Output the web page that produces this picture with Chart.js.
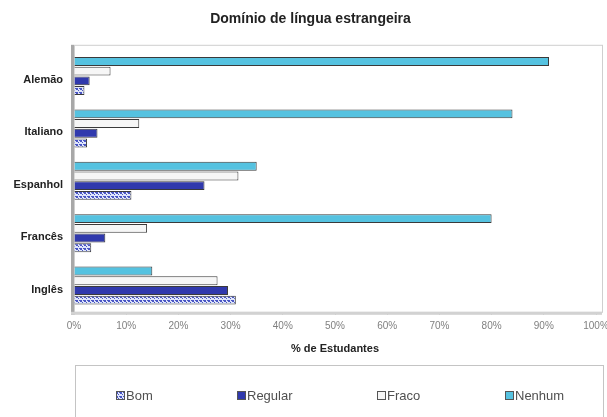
<!DOCTYPE html>
<html>
<head>
<meta charset="utf-8">
<script src="https://cdn.jsdelivr.net/npm/chart.js@4"></script>
<style>
  html, body { margin: 0; padding: 0; background: #fff; }
  #wrap { width: 607px; height: 417px; }
</style>
</head>
<body>
<div id="wrap"><canvas id="chart" width="607" height="417"></canvas></div>
<script>
// Languages, top to bottom
const languages = ['Alemão', 'Italiano', 'Espanhol', 'Francês', 'Inglês'];

// % of students per proficiency level
const nenhum  = [91, 84, 35, 80, 15];
const fraco   = [7, 12.5, 31.5, 14, 27.5];
const regular = [3, 4.5, 25, 6, 29.5];
const bom     = [2, 2.5, 11, 3.3, 31];

const xTicks = [0, 10, 20, 30, 40, 50, 60, 70, 80, 90, 100];

const colors = {
    nenhum: '#55c2e0',
    fraco: '#f6f6f6',
    regular: '#3039ad',
    border: '#3a3a3a',
    text: '#222222',
    tick: '#808080',
    frame: '#cfcfcf'
};

// hatched fill for "Bom"
function bomPattern() {
    const c = document.createElement('canvas');
    c.width = 4; c.height = 4;
    const g = c.getContext('2d');
    g.fillStyle = '#dfe6fb';
    g.fillRect(0, 0, 4, 4);
    g.fillStyle = '#4a56c4';
    g.fillRect(0, 0, 2, 2);
    g.fillRect(2, 2, 1, 1);
    g.fillRect(3, 0, 1, 1);
    return document.getElementById('chart').getContext('2d').createPattern(c, 'repeat');
}
const bomFill = bomPattern();

// plot frame + 3D-ish left wall and floor
const framePlugin = {
    id: 'frame',
    beforeDatasetsDraw(chart) {
        const { ctx, chartArea: a } = chart;
        const top = a.top - 5, right = Math.min(a.right + 6, chart.width - 2);
        ctx.save();
        ctx.strokeStyle = colors.frame;
        ctx.lineWidth = 1;
        ctx.strokeRect(a.left + 0.5, top + 0.5, right - a.left, a.bottom - top);
        ctx.fillStyle = '#a8a8a8';
        ctx.fillRect(a.left - 3, top, 3, a.bottom - top + 3);
        ctx.fillStyle = '#d2d2d2';
        ctx.fillRect(a.left - 3, a.bottom, right - a.left + 3, 3);
        ctx.restore();
    }
};

// boxed legend, in Bom / Regular / Fraco / Nenhum order
const boxLegendPlugin = {
    id: 'boxLegend',
    afterDraw(chart) {
        const { ctx } = chart;
        const boxL = 75, boxT = 365, boxR = 603, boxB = 430;
        ctx.save();
        ctx.strokeStyle = '#c4c4c4';
        ctx.lineWidth = 1;
        ctx.strokeRect(boxL + 0.5, boxT + 0.5, boxR - boxL, boxB - boxT);
        const order = [3, 2, 1, 0];
        const xs = [116, 237, 377, 505];
        ctx.font = '13px "Liberation Sans", Arial, sans-serif';
        ctx.textBaseline = 'middle';
        order.forEach((di, i) => {
            const ds = chart.data.datasets[di];
            const y = 395;
            ctx.fillStyle = ds.backgroundColor;
            ctx.fillRect(xs[i], y - 4, 9, 9);
            ctx.strokeStyle = '#555';
            ctx.strokeRect(xs[i] + 0.5, y - 3.5, 8, 8);
            ctx.fillStyle = '#505050';
            ctx.fillText(ds.label, xs[i] + 10, y + 1);
        });
        ctx.restore();
    }
};

const barStyle = { borderColor: colors.border, borderWidth: 1, borderSkipped: 'left' };

new Chart(document.getElementById('chart'), {
    type: 'bar',
    data: {
        labels: languages,
        datasets: [
            { label: 'Nenhum', data: nenhum, backgroundColor: colors.nenhum, ...barStyle },
            { label: 'Fraco', data: fraco, backgroundColor: colors.fraco, ...barStyle },
            { label: 'Regular', data: regular, backgroundColor: colors.regular, ...barStyle },
            { label: 'Bom', data: bom, backgroundColor: bomFill, ...barStyle }
        ]
    },
    options: {
        indexAxis: 'y',
        responsive: false,
        animation: false,
        categoryPercentage: 0.74,
        barPercentage: 0.92,
        layout: { padding: { top: 8, right: 0, bottom: 61, left: 14 } },
        plugins: {
            legend: { display: false },
            tooltip: { enabled: false },
            title: {
                display: true,
                text: 'Domínio de língua estrangeira',
                color: colors.text,
                font: { family: '"Liberation Sans", Arial, sans-serif', size: 14, weight: 'bold' },
                padding: { top: 3, bottom: 22 }
            }
        },
        scales: {
            x: {
                min: 0,
                max: 100,
                afterBuildTicks: s => { s.ticks = xTicks.map(v => ({ value: v })); },
                afterFit: s => { s.paddingRight = 11; },
                grid: { drawOnChartArea: false, drawTicks: true, tickLength: 3, color: '#bbb' },
                border: { display: false },
                ticks: {
                    color: colors.tick,
                    font: { family: '"Liberation Sans", Arial, sans-serif', size: 10 },
                    padding: 5,
                    maxRotation: 0,
                    callback: v => v + '%'
                },
                title: {
                    display: true,
                    text: '% de Estudantes',
                    color: colors.text,
                    font: { family: '"Liberation Sans", Arial, sans-serif', size: 11, weight: 'bold' },
                    padding: { top: 6, bottom: 0 }
                }
            },
            y: {
                afterFit: s => { s.width = 60; },
                grid: { display: false },
                border: { display: false },
                ticks: {
                    color: colors.text,
                    font: { family: '"Liberation Sans", Arial, sans-serif', size: 11, weight: 'bold' },
                    padding: 3,
                    labelOffset: 4
                }
            }
        }
    },
    plugins: [framePlugin, boxLegendPlugin]
});
</script>
</body>
</html>
